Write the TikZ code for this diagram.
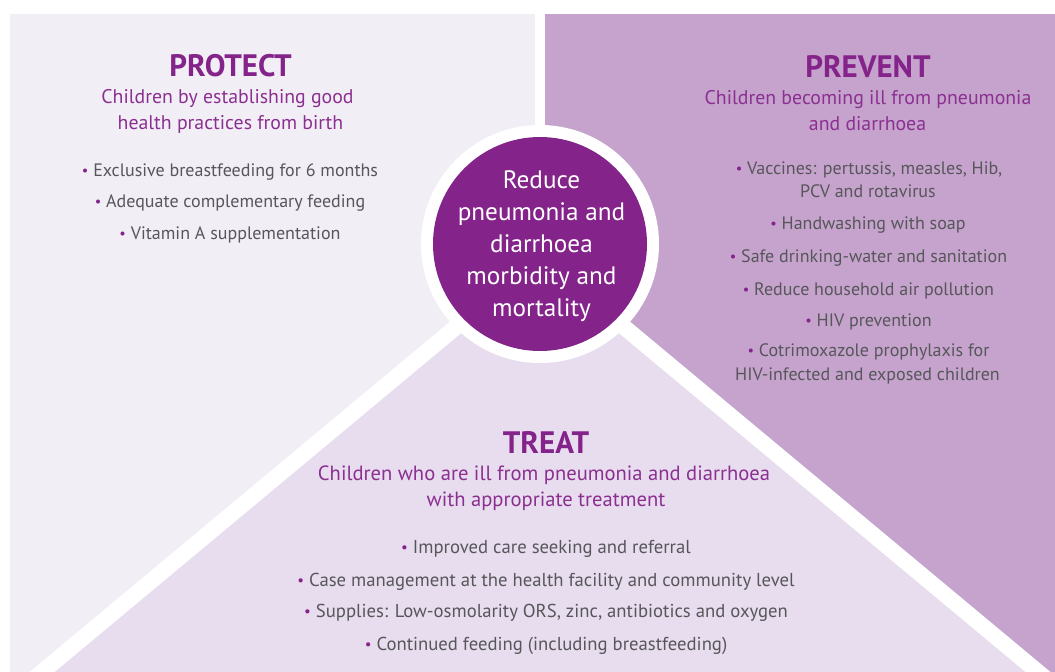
\documentclass[tikz,border=0pt]{standalone}
\usepackage{fontspec}
\setmainfont{PT Sans}
\definecolor{leftc}{HTML}{F2EEF6}
\definecolor{tric}{HTML}{E7DDEE}
\definecolor{rightc}{HTML}{C5A3CD}
\definecolor{discc}{HTML}{84238A}
\definecolor{titlec}{HTML}{84238A}
\definecolor{subc}{HTML}{8B2F90}
\definecolor{bodyc}{HTML}{57565A}
\newcommand\bul{{\color{titlec}\raisebox{0.05em}{\scalebox{0.8}{\textbullet}}}\ }
\tikzset{
  ttl/.style={anchor=base, inner sep=0pt, text=titlec, font=\bfseries\fontsize{31}{31}\selectfont},
  subt/.style={anchor=base, inner sep=0pt, text=subc, font=\fontsize{19.8}{19.8}\selectfont},
  subtt/.style={subt, font=\fontsize{20.6}{20.6}\selectfont},
  itm/.style={anchor=base, inner sep=0pt, text=bodyc, font=\fontsize{18}{18}\selectfont},
  itmt/.style={itm, font=\fontsize{18.7}{18.7}\selectfont},
  hubt/.style={anchor=base, inner sep=0pt, text=white, font=\fontsize{25.2}{25.2}\selectfont}
}
\begin{document}
\begin{tikzpicture}[x=1pt,y=-1pt]
\useasboundingbox (0,0) rectangle (1055,672);
\fill[white] (0,0) rectangle (1055,672);
\begin{scope}
  \clip (0,0) rectangle (1055,672);
  \fill[leftc] (10,14) rectangle (535,672);
  \fill[rightc] (545,14) rectangle (1055,672);
  \fill[tric] (540,257) -- (0,707) -- (1080,707) -- cycle;
  \draw[white, line width=16pt] (0,707) -- (540,257) -- (1080,707);
\end{scope}
\node[circle, fill=white, minimum size=238pt, inner sep=0pt] (ring) at (540,244) {};
\node[circle, fill=discc, minimum size=214pt, inner sep=0pt] (hub) at (540,244) {};
% hub text
\foreach \t/\y [count=\i] in {Reduce/188, pneumonia and/220, diarrhoea/252, morbidity and/284, mortality/316}
  \node[hubt] (hub-\i) at (541.5,\y) {\t};
% PROTECT
\node[ttl] (prot) at (230.5,76) {PROTECT};
\node[subt] (prot-s1) at (227.5,103) {Children by establishing good};
\node[subt] (prot-s2) at (230.5,129) {health practices from birth};
\foreach \t/\y [count=\i] in {{Exclusive breastfeeding for 6 months}/176, {Adequate complementary feeding}/207.5, {Vitamin A supplementation}/239}
  \node[itm] (prot-b\i) at (230,\y) {\bul\t};
% PREVENT
\node[ttl] (prev) at (868,77) {PREVENT};
\node[subt] (prev-s1) at (868,104) {Children becoming ill from pneumonia};
\node[subt] (prev-s2) at (867.5,130) {and diarrhoea};
\node[itm] (prev-b1) at (869,174) {\bul Vaccines: pertussis, measles, Hib,};
\node[itm] (prev-b1b) at (868,197.5) {PCV and rotavirus};
\node[itm] (prev-b2) at (868,229.5) {\bul Handwashing with soap};
\node[itm] (prev-b3) at (868.5,262) {\bul Safe drinking-water and sanitation};
\node[itm] (prev-b4) at (868.5,295) {\bul Reduce household air pollution};
\node[itm] (prev-b5) at (868.5,326.5) {\bul HIV prevention};
\node[itm] (prev-b6) at (868.5,356.5) {\bul Cotrimoxazole prophylaxis for};
\node[itm] (prev-b6b) at (867.5,380) {HIV-infected and exposed children};
% TREAT
\node[ttl] (treat) at (546,453) {TREAT};
\node[subtt] (treat-s1) at (544,480.5) {Children who are ill from pneumonia and diarrhoea};
\node[subtt] (treat-s2) at (546,506.5) {with appropriate treatment};
\foreach \t/\y [count=\i] in {{Improved care seeking and referral}/553, {Case management at the health facility and community level}/586, {Supplies: Low-osmolarity ORS, zinc, antibiotics and oxygen}/617.5, {Continued feeding (including breastfeeding)}/650}
  \node[itmt] (treat-b\i) at (546,\y) {\bul\t};
\end{tikzpicture}
\end{document}
